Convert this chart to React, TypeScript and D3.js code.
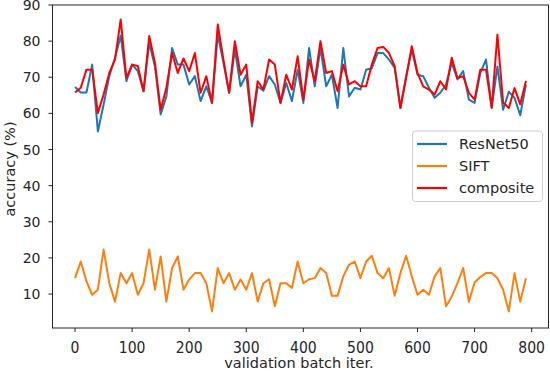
import React from "react";
import * as d3 from "d3";

// validation batch iteration (every 10 batches)
const iters = d3.range(0, 800, 10);

const resnet = [
  67.3, 65.8, 65.8, 73.5, 55.0, 62.4, 70.3, 75.4, 81.5, 68.9,
  73.5, 71.7, 66.1, 79.5, 73.0, 59.7, 64.7, 78.1, 73.5, 73.5,
  68.0, 70.3, 63.4, 67.5, 62.9, 81.8, 74.0, 65.7, 77.7, 67.5,
  70.7, 56.4, 67.5, 66.3, 70.3, 68.0, 62.9, 68.4, 63.4, 72.1,
  62.9, 78.1, 67.5, 78.1, 67.5, 70.7, 61.5, 78.1, 64.7, 67.1,
  66.6, 72.1, 72.5, 76.7, 76.7, 74.9, 72.6, 61.5, 70.3, 77.7,
  70.7, 70.3, 67.1, 64.3, 65.7, 68.0, 74.0, 69.4, 71.7, 63.8,
  62.9, 71.2, 74.9, 61.5, 73.0, 61.0, 66.0, 64.3, 59.5, 68.0,
];

const sift = [
  14.4, 19.0, 13.5, 9.8, 11.2, 22.3, 13.0, 7.9, 15.8, 13.0,
  15.8, 9.8, 13.0, 22.3, 11.2, 20.4, 7.9, 17.2, 20.4, 11.2,
  14.0, 15.8, 15.8, 13.0, 5.2, 17.2, 13.0, 15.8, 11.2, 14.0,
  11.2, 15.8, 7.9, 13.0, 14.1, 6.6, 13.0, 13.0, 11.7, 19.0,
  13.0, 14.1, 14.4, 17.2, 15.8, 9.5, 9.5, 14.9, 18.1, 19.0,
  14.4, 19.0, 20.6, 15.8, 14.4, 17.2, 9.5, 15.8, 20.6, 14.9,
  9.8, 11.2, 9.8, 14.9, 17.2, 6.6, 9.3, 13.0, 17.2, 7.9,
  13.2, 14.7, 15.8, 15.8, 14.4, 11.2, 5.2, 15.8, 7.9, 14.4,
];

const composite = [
  65.8, 67.1, 72.1, 72.1, 60.1, 65.2, 71.2, 74.9, 86.0, 69.8,
  73.5, 73.1, 66.1, 81.4, 74.0, 61.0, 67.1, 76.7, 71.2, 75.2,
  71.7, 76.7, 65.7, 70.3, 62.9, 84.6, 74.9, 65.7, 80.0, 70.7,
  73.5, 57.4, 68.9, 66.6, 74.9, 73.5, 62.9, 70.7, 66.6, 75.8,
  63.8, 74.9, 68.9, 80.0, 71.2, 71.7, 66.1, 73.5, 68.0, 68.9,
  67.5, 67.5, 73.5, 78.1, 78.4, 76.7, 73.1, 61.5, 69.8, 78.6,
  71.2, 67.5, 66.6, 65.2, 68.9, 66.6, 75.4, 69.8, 70.3, 65.7,
  63.8, 72.1, 72.1, 61.6, 81.8, 63.0, 61.5, 67.0, 62.5, 69.0,
];

const xTicks = [0, 100, 200, 300, 400, 500, 600, 700, 800];
const yTicks = [10, 20, 30, 40, 50, 60, 70, 80, 90];

const series = [
  { name: "ResNet50", values: resnet, color: "#1f77b4" },
  { name: "SIFT", values: sift, color: "#ff7f0e" },
  { name: "composite", values: composite, color: "#ff0000" },
];

const width = 550;
const height = 372;
const plot = { left: 52.5, right: 548.5, top: 5, bottom: 328 };
const font = "'DejaVu Sans', sans-serif";
const ink = "#262626";

const App = () => {
  const x = d3.scaleLinear().domain([-39.5, 829.5]).range([plot.left, plot.right]);
  const y = d3.scaleLinear().domain([0.6, 90]).range([plot.bottom, plot.top]);

  const line = d3
    .line<number>()
    .x((_, i) => x(iters[i]))
    .y((d) => y(d));

  // draw order: ResNet50, SIFT, composite on top
  return (
    <div style={{ position: "absolute", left: 0, top: 0 }}>
      <svg width={width} height={height} style={{ display: "block", background: "#fff" }}>
        <defs>
          <clipPath id="clip">
            <rect x={plot.left} y={plot.top} width={plot.right - plot.left} height={plot.bottom - plot.top} />
          </clipPath>
        </defs>
        <g clipPath="url(#clip)">
          {series.map((s) => (
            <path
              key={s.name}
              d={line(s.values) || ""}
              fill="none"
              stroke={s.color}
              strokeWidth={2}
              strokeLinejoin="round"
            />
          ))}
        </g>

        {/* spines */}
        <rect
          x={plot.left}
          y={plot.top}
          width={plot.right - plot.left}
          height={plot.bottom - plot.top}
          fill="none"
          stroke={ink}
          strokeWidth={1}
        />

        {/* x axis */}
        {xTicks.map((t) => (
          <g key={t} transform={`translate(${x(t)}, ${plot.bottom})`}>
            <line y2={4} stroke={ink} />
            <text
              y={23.5}
              textAnchor="middle"
              fontFamily={font}
              fontSize={14}
              fill={ink}
              transform="scale(1,1.08)"
            >
              {t}
            </text>
          </g>
        ))}

        {/* y axis */}
        {yTicks.map((t) => (
          <g key={t} transform={`translate(${plot.left}, ${y(t)})`}>
            <line x2={-4} stroke={ink} />
            <text
              x={-12}
              dy="0.36em"
              textAnchor="end"
              fontFamily={font}
              fontSize={14}
              fill={ink}
            >
              {t}
            </text>
          </g>
        ))}

        <text x={299} y={368} textAnchor="middle" fontFamily={font} fontSize={14.5} fill={ink}>
          validation batch iter.
        </text>
        <text
          transform={`translate(15, 169) rotate(-90)`}
          textAnchor="middle"
          fontFamily={font}
          fontSize={14.5}
          fill={ink}
        >
          accuracy (%)
        </text>

        {/* legend */}
        <g>
          <rect
            x={412.5}
            y={131}
            width={130}
            height={70.5}
            rx={3}
            fill="#fff"
            fillOpacity={0.8}
            stroke="#cccccc"
          />
          {series.map((s, i) => (
            <g key={s.name} transform={`translate(417, ${144 + i * 22})`}>
              <line x1={0} x2={30} stroke={s.color} strokeWidth={2.2} />
              <text x={42} dy="0.36em" fontFamily={font} fontSize={14.5} fill={ink}>
                {s.name}
              </text>
            </g>
          ))}
        </g>
      </svg>
    </div>
  );
};

export default App;
